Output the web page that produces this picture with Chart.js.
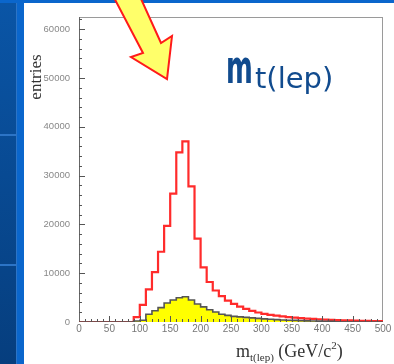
<!DOCTYPE html>
<html>
<head>
<meta charset="utf-8">
<script src="https://cdn.jsdelivr.net/npm/chart.js@4.4.1/dist/chart.umd.min.js"></script>
<style>
  html, body { margin: 0; padding: 0; }
  body { width: 394px; height: 364px; position: relative; overflow: hidden; background: #0a66cc; }
  #side { position: absolute; left: 0; top: 3px; width: 16px; height: 361px; background: linear-gradient(#0a55a6, #063e7e); }
  .sep { position: absolute; left: 0; width: 16px; height: 2px; background: #2c74c6; }
  #sideEdge { position: absolute; left: 16px; top: 3px; width: 1px; height: 361px; background: #2c74c6; }
  #sheet { position: absolute; left: 24px; top: 3px; width: 370px; height: 361px; background: #fff; }
  canvas { position: absolute; left: 0; top: 0; }
</style>
</head>
<body>
<div id="side"></div>
<div class="sep" style="top:134px"></div>
<div class="sep" style="top:264px"></div>
<div id="sideEdge"></div>
<div id="sheet"></div>
<canvas id="massChart" width="394" height="364"></canvas>
<script>
// lower edge of each 10 GeV bin
const binStart = [
  0, 10, 20, 30, 40, 50, 60, 70, 80, 90,
  100, 110, 120, 130, 140, 150, 160, 170, 180, 190,
  200, 210, 220, 230, 240, 250, 260, 270, 280, 290,
  300, 310, 320, 330, 340, 350, 360, 370, 380, 390,
  400, 410, 420, 430, 440, 450, 460, 470, 480, 490
];
// all events (red outline)
const allEntries = [
  0, 0, 0, 0, 0, 0, 0, 0, 0, 1000,
  3500, 6700, 10200, 14400, 19700, 26300, 34750, 37000, 27800, 17100,
  11200, 8200, 6450, 5300, 4400, 3700, 3150, 2700, 2300, 1950,
  1650, 1450, 1300, 1150, 1000, 900, 800, 700, 620, 560,
  500, 450, 400, 350, 320, 280, 250, 220, 200, 180
];
// correctly assigned subset (yellow)
const goodEntries = [
  0, 0, 0, 0, 0, 0, 0, 0, 0, 200,
  350, 1600, 2300, 2950, 3900, 4500, 4980, 5180, 4500, 3700,
  3100, 2500, 2050, 1600, 1350, 1150, 1050, 950, 850, 750,
  650, 550, 480, 420, 370, 330, 280, 240, 200, 170,
  150, 120, 0, 0, 0, 0, 0, 0, 0, 0
];
const xTickLabels = [0, 50, 100, 150, 200, 250, 300, 350, 400, 450, 500];
const yTickLabels = [0, 10000, 20000, 30000, 40000, 50000, 60000];
const xUpper = 500;
const yUpper = 62500;

function histPoints(values) {
  const pts = binStart.map((x, i) => ({ x: x, y: values[i] }));
  pts.push({ x: xUpper, y: values[values.length - 1] });
  return pts;
}

const histFrame = {
  id: 'histFrame',
  beforeDatasetsDraw(chart) {
    const { ctx, chartArea: a } = chart;
    ctx.save();
    ctx.lineWidth = 1;
    ctx.strokeStyle = '#9a9a9a';
    ctx.beginPath();
    ctx.moveTo(a.left, a.top + 0.5);
    ctx.lineTo(a.right, a.top + 0.5);
    ctx.moveTo(a.right - 0.5, a.top);
    ctx.lineTo(a.right - 0.5, a.bottom);
    ctx.stroke();
    ctx.strokeStyle = '#666';
    ctx.beginPath();
    ctx.moveTo(a.left + 0.5, a.top);
    ctx.lineTo(a.left + 0.5, a.bottom);
    ctx.moveTo(a.left, a.bottom - 0.5);
    ctx.lineTo(a.right, a.bottom - 0.5);
    ctx.stroke();
    ctx.restore();
  },
  afterDatasetsDraw(chart) {
    const { ctx, chartArea: a, scales } = chart;
    ctx.save();
    ctx.strokeStyle = '#555';
    ctx.lineWidth = 1;
    ctx.beginPath();
    // ticks point into the frame, minor every 10 GeV / 2000 entries
    for (let v = 10; v < xUpper; v += 10) {
      const px = Math.round(scales.x.getPixelForValue(v)) + 0.5;
      const len = v % 50 === 0 ? 6 : 3;
      ctx.moveTo(px, a.bottom);
      ctx.lineTo(px, a.bottom - len);
    }
    for (let v = 2000; v < yUpper; v += 2000) {
      const py = Math.round(scales.y.getPixelForValue(v)) + 0.5;
      const len = v % 10000 === 0 ? 6 : 3;
      ctx.moveTo(a.left, py);
      ctx.lineTo(a.left + len, py);
    }
    ctx.stroke();
    ctx.restore();
  },
  afterDraw(chart) {
    const ctx = chart.ctx;
    ctx.save();

    // y title
    ctx.fillStyle = '#333';
    ctx.font = '17px "Liberation Serif"';
    ctx.textAlign = 'center';
    ctx.textBaseline = 'alphabetic';
    ctx.translate(41, 77);
    ctx.rotate(-Math.PI / 2);
    ctx.fillText('entries', 0, 0);
    ctx.setTransform(1, 0, 0, 1, 0, 0);

    // x title
    ctx.textAlign = 'left';
    let x = 236;
    const parts = [
      ['m', 18, 357],
      ['t(lep)', 11, 361],
      [' (GeV/c', 18, 357],
      ['2', 11, 349],
      [')', 18, 357]
    ];
    for (const [t, size, base] of parts) {
      ctx.font = size + 'px "Liberation Serif"';
      ctx.fillText(t, x, base);
      x += ctx.measureText(t).width;
    }

    // large label
    ctx.fillStyle = '#114b8e';
    ctx.font = 'bold 46px "DejaVu Sans"';
    ctx.save();
    ctx.translate(226, 83);
    ctx.scale(0.56, 1);
    ctx.fillText('m', 0, 0);
    ctx.restore();
    ctx.font = '29px "DejaVu Sans"';
    ctx.fillText('t(lep)', 255, 88);

    // arrow
    ctx.beginPath();
    ctx.moveTo(110, -10);
    ctx.lineTo(143, 53);
    ctx.lineTo(131, 57);
    ctx.lineTo(167, 79);
    ctx.lineTo(172, 36);
    ctx.lineTo(161, 43);
    ctx.lineTo(137, -10);
    ctx.closePath();
    ctx.fillStyle = '#ffff6a';
    ctx.fill();
    ctx.strokeStyle = '#ff1a1a';
    ctx.lineWidth = 2;
    ctx.lineJoin = 'miter';
    ctx.stroke();
    ctx.restore();
  }
};

new Chart(document.getElementById('massChart'), {
  type: 'line',
  data: {
    datasets: [
      {
        label: 'correct',
        data: histPoints(goodEntries),
        stepped: true,
        borderColor: '#555555',
        borderWidth: 1.6,
        backgroundColor: '#ffff00',
        fill: 'origin',
        pointRadius: 0
      },
      {
        label: 'all',
        data: histPoints(allEntries),
        stepped: true,
        borderColor: '#ff2b2b',
        borderWidth: 2.2,
        fill: false,
        pointRadius: 0
      }
    ]
  },
  options: {
    responsive: false,
    animation: false,
    layout: { padding: { top: 17, right: 11, left: 0, bottom: 0 } },
    plugins: {
      legend: { display: false },
      tooltip: { enabled: false }
    },
    scales: {
      x: {
        type: 'linear',
        min: 0,
        max: xUpper,
        grid: { display: false, drawTicks: false },
        border: { display: false },
        ticks: {
          color: '#777',
          font: { family: '"Liberation Sans"', size: 10 },
          padding: 1,
          maxRotation: 0,
          callback: (v) => String(v)
        },
        afterBuildTicks: (s) => { s.ticks = xTickLabels.map((v) => ({ value: v })); },
        afterFit: (s) => { s.height = 42; }
      },
      y: {
        type: 'linear',
        min: 0,
        max: yUpper,
        grid: { display: false, drawTicks: false },
        border: { display: false },
        ticks: {
          color: '#888',
          font: { family: '"Liberation Sans"', size: 9.5 },
          padding: 9,
          callback: (v) => String(v)
        },
        afterBuildTicks: (s) => { s.ticks = yTickLabels.map((v) => ({ value: v })); },
        afterFit: (s) => { s.width = 79; }
      }
    }
  },
  plugins: [histFrame]
});
</script>
</body>
</html>
